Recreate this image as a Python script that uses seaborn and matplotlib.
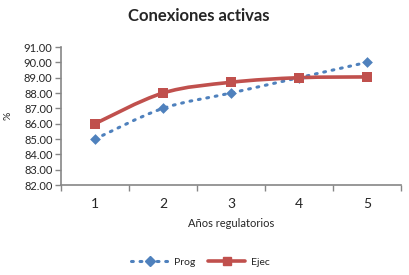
import numpy as np
import pandas as pd
import seaborn as sns
import matplotlib.pyplot as plt
from matplotlib.path import Path
from matplotlib.patches import PathPatch
from matplotlib.lines import Line2D

years = [1, 2, 3, 4, 5]
prog = [85.0, 87.0, 88.0, 89.0, 90.0]
ejec = [86.0, 88.0, 88.7, 89.0, 89.05]

blue = '#4F81BD'
red = '#C0504D'
grey = '#868686'

sns.set_style('white')
plt.rcParams['font.family'] = ['Lato', 'DejaVu Sans']

df = pd.DataFrame({'Año': years * 2,
                   'valor': prog + ejec,
                   'serie': ['Prog'] * 5 + ['Ejec'] * 5})


def smooth_path(xs, ys):
    # excel-like smoothed line: bezier segments through the points
    pts = np.column_stack([xs, ys]).astype(float)
    verts = [pts[0]]
    codes = [Path.MOVETO]
    n = len(pts)
    for i in range(n - 1):
        p0 = pts[max(i - 1, 0)]
        p1 = pts[i]
        p2 = pts[i + 1]
        p3 = pts[min(i + 2, n - 1)]
        verts += [p1 + (p2 - p0) / 6, p2 - (p3 - p1) / 6, p2]
        codes += [Path.CURVE4] * 3
    return Path(verts, codes)


fig = plt.figure(figsize=(4.09, 2.75), dpi=100)
ax = fig.add_axes([0.149, 0.327, 0.831, 0.502])

ax.add_patch(PathPatch(smooth_path(years, prog), fill=False, edgecolor=blue,
                       lw=2.2, linestyle=(0, (0.6, 2.2)), capstyle='round', zorder=2))
ax.add_patch(PathPatch(smooth_path(years, ejec), fill=False, edgecolor=red,
                       lw=2.6, zorder=3))

sns.scatterplot(data=df[df.serie == 'Prog'], x='Año', y='valor', marker='D', s=30,
                color=blue, edgecolor=blue, linewidth=0, ax=ax, zorder=4)
sns.scatterplot(data=df[df.serie == 'Ejec'], x='Año', y='valor', marker='s', s=50,
                color=red, edgecolor=red, linewidth=0, ax=ax, zorder=5)

ax.set_xlim(0.5, 5.5)
ax.set_ylim(82, 91)
ax.set_yticks(np.arange(82, 91.5, 1))
ax.set_yticklabels([f'{v:.2f}' for v in np.arange(82, 91.5, 1)], fontsize=8)
ax.set_xticks(years)
ax.set_xticklabels([str(y) for y in years], fontsize=10)
ax.set_xticks(np.arange(0.5, 6, 1), minor=True)
ax.tick_params(axis='x', which='major', length=0, pad=9)
ax.tick_params(axis='x', which='minor', length=4, color=grey, width=1, direction='out', bottom=True)
ax.tick_params(axis='y', length=4, color=grey, width=1, direction='out', left=True, pad=2)

for side in ['top', 'right']:
    ax.spines[side].set_visible(False)
for side in ['left', 'bottom']:
    ax.spines[side].set_color(grey)
    ax.spines[side].set_linewidth(1.2)

ax.set_xlabel('Años regulatorios', fontsize=8, labelpad=6)
ax.set_ylabel('%', fontsize=7.5, labelpad=8)
fig.suptitle('Conexiones activas', x=0.485, y=0.97, fontsize=12, fontweight='bold')

handles = [Line2D([], [], color=blue, lw=2.2, linestyle=(0, (0.6, 2.2)),
                  dash_capstyle='round', marker='D', markersize=5),
           Line2D([], [], color=red, lw=2.6, marker='s', markersize=6)]
fig.legend(handles, ['Prog', 'Ejec'], loc='center', bbox_to_anchor=(0.49, 0.047),
           ncol=2, frameon=False, fontsize=7.5, handlelength=3.6, handletextpad=0.5,
           columnspacing=1.2)

fig.savefig('out.png', dpi=100)
